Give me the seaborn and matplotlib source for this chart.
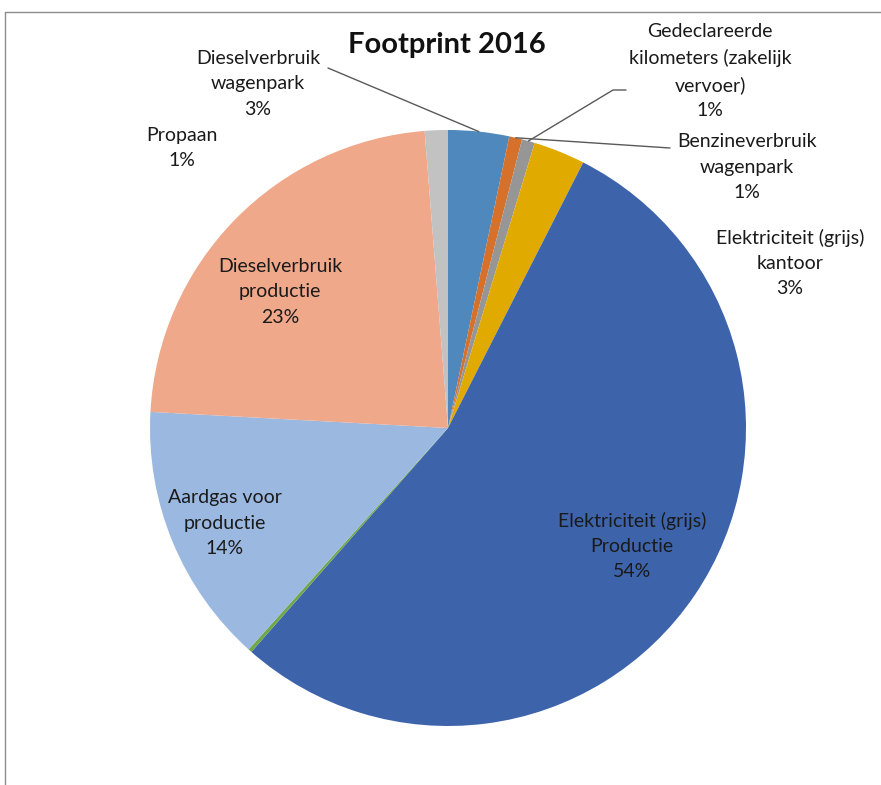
import matplotlib
matplotlib.use("Agg")
import matplotlib.pyplot as plt
from matplotlib.lines import Line2D
import seaborn as sns
import numpy as np

# data (share in %, clockwise from 12 o'clock)
categories = ["Dieselverbruik\nwagenpark", "Gedeclareerde\nkilometers (zakelijk\nvervoer)",
              "Benzineverbruik\nwagenpark", "Elektriciteit (grijs)\nkantoor",
              "Elektriciteit (grijs)\nProductie", "", "Aardgas voor\nproductie",
              "Dieselverbruik\nproductie", "Propaan"]
values = [3.3, 0.7, 0.7, 2.8, 54.0, 0.2, 14.2, 22.9, 1.25]
pct_labels = ["3%", "1%", "1%", "3%", "54%", "", "14%", "23%", "1%"]
colors = sns.color_palette(["#4f88bd", "#d6712b", "#969696", "#e1aa00", "#3d64ab",
                            "#6fa84a", "#9bb9e0", "#f0a88a", "#c2c2c2"])

W, H = 881, 785
CX, CY, R = 448, 428, 298   # pie centre / radius in pixels

# label centres in pixels
label_pos = [(258, 84), (710, 71), (747, 167), (790, 263), (632, 546),
             None, (225, 523), (280, 292), (182, 148)]
# leader lines: pixel points from the label, ending at a wedge
leaders = [([(328, 68)], 0), ([(626, 90), (613, 90)], 2), ([(670, 148)], 1)]

sns.set_theme(style="white")
plt.rcParams['font.family'] = ['Lato', 'DejaVu Sans']

fig = plt.figure(figsize=(W / 100, H / 100), dpi=100)
ax = fig.add_axes([(CX - R) / W, (H - CY - R) / H, 2 * R / W, 2 * R / H])
wedges, _ = ax.pie(values, colors=colors, startangle=90, counterclock=False,
                   radius=1, wedgeprops=dict(linewidth=0))
ax.set_xlim(-1, 1)
ax.set_ylim(-1, 1)
ax.set_aspect('equal')
ax.axis('off')


def px(x, y):
    return (x - CX) / R, (CY - y) / R


for name, pct, pos in zip(categories, pct_labels, label_pos):
    if pos is None:
        continue
    x, y = px(*pos)
    ax.text(x, y, name + "\n" + pct, ha='center', va='center', fontsize=14,
            linespacing=1.6, color='#1a1a1a', clip_on=False)

for pts, wi in leaders:
    w = wedges[wi]
    mid = np.deg2rad((w.theta1 + w.theta2) / 2)
    xs = [px(*p)[0] for p in pts] + [np.cos(mid)]
    ys = [px(*p)[1] for p in pts] + [np.sin(mid)]
    ax.plot(xs, ys, color='#595959', lw=1, clip_on=False)

fig.text(447 / W, 1 - 45 / H, "Footprint 2016", ha='center', va='center',
         fontsize=21, fontweight='bold', color='#111111')

# chart border (only top and left edge visible)
fig.add_artist(Line2D([5 / W, 5 / W], [0, 1 - 12 / H], transform=fig.transFigure,
                      color='#8c8c8c', lw=1))
fig.add_artist(Line2D([5 / W, 1], [1 - 12 / H, 1 - 12 / H], transform=fig.transFigure,
                      color='#8c8c8c', lw=1))

fig.savefig("out.png", dpi=100)
